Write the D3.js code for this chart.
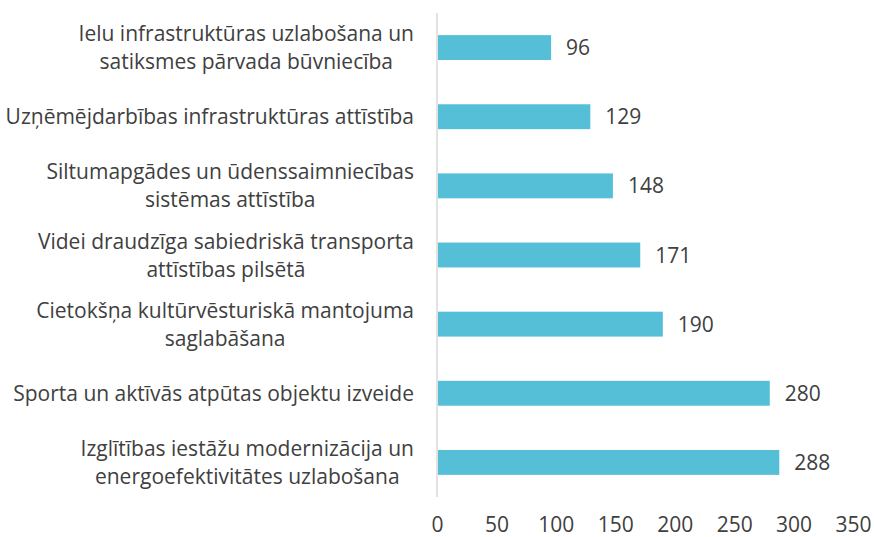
<!DOCTYPE html>
<html>
<head>
<meta charset="utf-8">
<script src="https://d3js.org/d3.v7.min.js"></script>
<style>
  body { margin: 0; background: #fff; }
  text { font-family: "Open Sans", sans-serif; fill: #404040; }
  .cat { font-size: 21px; }
  .val { font-size: 21px; }
  .tick text { font-size: 21px; }
</style>
</head>
<body>
<svg width="874" height="537"></svg>
<script>
// categories, top to bottom; each label split into its wrapped lines
var categories = [
  ["Ielu infrastruktūras uzlabošana un", "satiksmes pārvada būvniecība"],
  ["Uzņēmējdarbības infrastruktūras attīstība"],
  ["Siltumapgādes un ūdenssaimniecības", "sistēmas attīstība"],
  ["Videi draudzīga sabiedriskā transporta", "attīstības pilsētā"],
  ["Cietokšņa kultūrvēsturiskā mantojuma", "saglabāšana"],
  ["Sporta un aktīvās atpūtas objektu izveide"],
  ["Izglītības iestāžu modernizācija un", "energoefektivitātes uzlabošana"]
];
var values = [96, 129, 148, 171, 190, 280, 288];
var xTicks = [0, 50, 100, 150, 200, 250, 300, 350];

var svg = d3.select("svg");
var plotLeft = 437, plotRight = 853, plotTop = 13, plotBottom = 497;
var labelRight = 414;

var x = d3.scaleLinear().domain([0, 350]).range([plotLeft, plotRight]);
var y = d3.scaleBand().domain(d3.range(values.length)).range([plotTop, plotBottom]).paddingInner(0.64).paddingOuter(0.32);

// vertical axis line
svg.append("line")
  .attr("x1", plotLeft).attr("x2", plotLeft)
  .attr("y1", plotTop).attr("y2", plotBottom)
  .attr("stroke", "#d9d9d9").attr("stroke-width", 1.5);

// bars
svg.selectAll(".bar")
  .data(values)
  .enter().append("rect")
  .attr("class", "bar")
  .attr("x", x(0) + 1)
  .attr("y", function (d, i) { return y(i); })
  .attr("width", function (d) { return x(d) - x(0) - 1; })
  .attr("height", y.bandwidth())
  .attr("fill", "#56bfd8");

// value labels
svg.selectAll(".val")
  .data(values)
  .enter().append("text")
  .attr("class", "val")
  .attr("x", function (d) { return x(d) + 15; })
  .attr("y", function (d, i) { return y(i) + y.bandwidth() / 2; })
  .attr("dy", "0.36em")
  .text(function (d) { return d; });

// category labels, lines centred on each other, block right aligned
categories.forEach(function (lines, i) {
  var g = svg.append("g");
  var cy = y(i) + y.bandwidth() / 2;
  var lh = 28;
  var texts = lines.map(function (t, k) {
    return g.append("text")
      .attr("class", "cat")
      .attr("y", cy + (k - (lines.length - 1) / 2) * lh)
      .attr("dy", "0.36em")
      .attr("text-anchor", "middle")
      .text(t);
  });
  var w = d3.max(texts, function (t) { return t.node().getComputedTextLength(); });
  texts.forEach(function (t) { t.attr("x", labelRight - w / 2); });
});

// x axis tick labels
var axis = svg.append("g")
  .attr("transform", "translate(0," + 508 + ")")
  .call(d3.axisBottom(x).tickValues(xTicks).tickSize(0).tickPadding(9));
axis.select(".domain").remove();
axis.selectAll(".tick text").attr("fill", "#404040").style("font-family", "'Open Sans', sans-serif");
</script>
</body>
</html>
